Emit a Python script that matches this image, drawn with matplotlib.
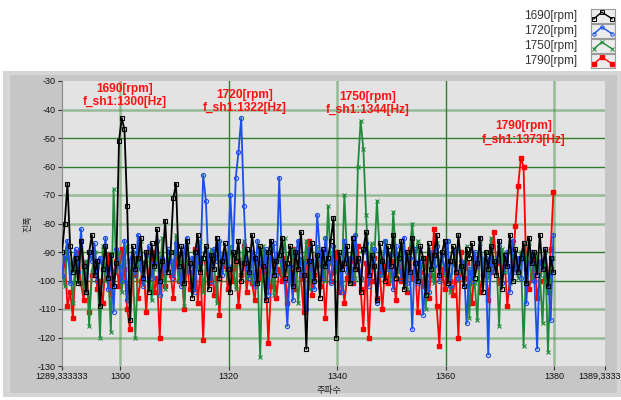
import numpy as np
import matplotlib.pyplot as plt
from matplotlib.patches import Rectangle

plt.rcParams['font.family'] = ['Liberation Sans', 'Noto Sans CJK KR', 'DejaVu Sans']
plt.rcParams['axes.unicode_minus'] = False

# spectrum bins: 1289.333333 Hz, every 0.5 Hz, up to ~1380 Hz
freq_start = 1289.333333
freq_step = 0.5

amp_1690 = [
    -90, -80, -66, -88, -97, -92, -101, -86, -95, -104, -90, -84, -98, -93, -109, -96, -88, -99, -91, -102,
    -94, -51, -43, -47, -74, -114, -88, -96, -92, -85, -99, -90, -104, -87, -95, -82, -100, -93, -79, -97,
    -90, -71, -66, -95, -88, -101, -86, -94, -106, -90, -84, -97, -92, -88, -103, -91, -96, -85, -99, -93,
    -87, -96, -104, -90, -93, -86, -100, -94, -89, -97, -84, -92, -101, -88, -95, -107, -90, -86, -98, -93,
    -91, -85, -99, -94, -88, -102, -90, -96, -83, -98, -124, -93, -87, -100, -91, -106, -89, -95, -92, -86,
    -78, -120, -90, -96, -94, -88, -101, -85, -96, -92, -104, -89, -83, -98, -91, -95, -107, -87, -93, -100,
    -88, -95, -84, -99, -92, -86, -103, -90, -97, -85, -94, -100, -88, -92, -105, -87, -96, -91, -84, -98,
    -90, -86, -101, -93, -88, -97, -84, -95, -102, -89, -92, -87, -99, -94, -85, -104, -90, -96, -88, -93,
    -98, -86, -103, -91, -95, -84, -100, -89, -97, -92, -87, -101, -85, -94, -90, -98, -84, -96, -89, -102,
    -92, -97,
]
amp_1720 = [
    -98, -91, -86, -101, -94, -89, -97, -82, -95, -104, -90, -93, -87, -100, -92, -96, -85, -103, -91, -111,
    -89, -95, -100, -86, -107, -93, -90, -98, -84, -96, -102, -91, -88, -99, -94, -86, -105, -92, -97, -89,
    -93, -99, -87, -95, -102, -90, -85, -97, -92, -104, -88, -94, -63, -72, -96, -100, -89, -93, -86, -98,
    -91, -95, -70, -90, -64, -55, -43, -74, -96, -99, -90, -102, -86, -94, -97, -89, -105, -92, -87, -98,
    -64, -93, -100, -116, -95, -107, -91, -86, -98, -94, -110, -89, -96, -103, -77, -90, -99, -85, -93, -101,
    -88, -95, -91, -104, -86, -97, -92, -100, -84, -93, -99, -90, -87, -102, -95, -89, -108, -94, -98, -86,
    -96, -91, -103, -88, -94, -99, -85, -101, -92, -117, -89, -101, -93, -112, -98, -104, -90, -95, -88, -100,
    -91, -97, -86, -102, -94, -89, -99, -93, -94, -115, -96, -100, -90, -95, -85, -98, -92, -126, -89, -97,
    -93, -88, -101, -95, -90, -104, -86, -97, -92, -99, -87, -108, -94, -90, -100, -124, -93, -96, -89, -98,
    -114, -84,
]
amp_1750 = [
    -96, -102, -89, -94, -108, -91, -99, -86, -104, -93, -116, -97, -90, -95, -120, -88, -100, -96, -118, -68,
    -97, -90, -104, -93, -88, -99, -92, -120, -95, -86, -101, -94, -89, -107, -96, -91, -98, -85, -103, -93,
    -90, -97, -84, -100, -93, -109, -88, -95, -102, -91, -96, -86, -104, -94, -99, -89, -93, -108, -87, -97,
    -92, -100, -88, -95, -103, -90, -97, -86, -99, -94, -101, -91, -96, -127, -88, -93, -100, -87, -105, -94,
    -90, -98, -85, -96, -101, -89, -94, -108, -92, -97, -86, -103, -93, -99, -88, -95, -91, -100, -74, -94,
    -89, -97, -93, -101, -70, -92, -96, -88, -99, -60, -44, -54, -77, -95, -87, -93, -72, -90, -98, -86,
    -94, -100, -76, -91, -97, -88, -95, -103, -90, -80, -93, -86, -99, -92, -110, -89, -96, -101, -87, -94,
    -91, -98, -86, -104, -93, -89, -100, -95, -97, -88, -113, -92, -101, -114, -87, -94, -90, -99, -85, -96,
    -92, -116, -89, -97, -94, -101, -88, -95, -99, -90, -123, -93, -87, -100, -96, -91, -98, -115, -90, -125,
    -96, -92,
]
amp_1790 = [
    -99, -92, -109, -104, -113, -96, -90, -101, -107, -94, -111, -98, -93, -103, -100, -108, -95, -91, -105, -97,
    -93, -102, -89, -96, -110, -117, -98, -92, -106, -100, -94, -111, -97, -90, -104, -99, -120, -95, -102, -93,
    -98, -106, -91, -100, -95, -110, -93, -103, -97, -89, -108, -96, -121, -94, -101, -92, -105, -99, -112, -95,
    -91, -103, -96, -100, -93, -109, -98, -88, -104, -95, -101, -107, -94, -99, -90, -97, -122, -102, -93, -106,
    -96, -100, -92, -108, -97, -89, -103, -94, -99, -111, -93, -86, -105, -98, -91, -102, -96, -113, -94, -100,
    -97, -90, -104, -95, -108, -99, -93, -101, -96, -88, -103, -117, -94, -120, -100, -92, -106, -97, -110, -95,
    -101, -93, -98, -107, -91, -100, -96, -104, -89, -99, -94, -111, -97, -102, -92, -106, -98, -82, -109, -123,
    -96, -103, -93, -100, -105, -97, -120, -90, -99, -94, -101, -108, -95, -92, -104, -98, -93, -107, -97, -83,
    -94, -101, -97, -92, -109, -99, -95, -81, -67, -57, -60, -96, -103, -98, -92, -106, -100, -94, -99, -104,
    -89, -69,
]

legend_labels = ["1690[rpm]", "1720[rpm]", "1750[rpm]", "1790[rpm]"]
colors = ["#000000", "#1a50e6", "#1f8a3c", "#ff0000"]

notes = [
    (1300.9, -35.1, "1690[rpm]\nf_sh1:1300[Hz]"),
    (1323.0, -37.2, "1720[rpm]\nf_sh1:1322[Hz]"),
    (1345.7, -37.9, "1750[rpm]\nf_sh1:1344[Hz]"),
    (1374.3, -48.2, "1790[rpm]\nf_sh1:1373[Hz]"),
]

W, H = 621, 400
fig = plt.figure(figsize=(W / 100, H / 100), dpi=100)
fig.patch.set_facecolor("white")


def px_rect(x0, y0, x1, y1, color):
    fig.add_artist(Rectangle((x0 / W, 1 - y1 / H), (x1 - x0) / W, (y1 - y0) / H,
                             transform=fig.transFigure, facecolor=color,
                             edgecolor="none", zorder=0))


# LabVIEW-like panel behind the graph
px_rect(3, 71, 621, 397, "#d6d6d6")
px_rect(10, 75, 617, 393, "#c6c6c6")

ax = fig.add_axes([62 / W, 1 - 366 / H, (605 - 62) / W, (366 - 81) / H])
ax.set_facecolor("#e3e3e3")

# grid (some lines look lighter/thicker in the original)
for yv in range(-120, -30, 10):
    if yv in (-40, -70, -80, -110, -120):
        ax.axhline(yv, color="#3a8a3a", lw=1.8, alpha=0.45, zorder=1)
    else:
        ax.axhline(yv, color="#2f7f2f", lw=1.0, zorder=1)
for xv in (1300, 1320, 1340, 1360, 1380):
    if xv in (1300, 1340, 1380):
        ax.axvline(xv, color="#3a8a3a", lw=1.8, alpha=0.45, zorder=1)
    else:
        ax.axvline(xv, color="#2f7f2f", lw=1.0, zorder=1)

n = len(amp_1690)
assert n == len(amp_1720) == len(amp_1750) == len(amp_1790)
freq = freq_start + freq_step * np.arange(n)

ax.plot(freq, amp_1790, color=colors[3], lw=1.3, marker="s", ms=3.2,
        mfc=colors[3], mec=colors[3], zorder=2)
ax.plot(freq, amp_1750, color=colors[2], lw=1.3, marker="x", ms=3.0,
        mew=0.8, zorder=3)
ax.plot(freq, amp_1720, color=colors[1], lw=1.3, marker="o", ms=3.0,
        mfc="none", mec=colors[1], mew=0.8, zorder=4)
ax.plot(freq, amp_1690, color=colors[0], lw=1.3, marker="s", ms=3.2,
        mfc="none", mec=colors[0], mew=0.8, zorder=5)

for x, y, s in notes:
    ax.text(x, y, s, color="#ff1010", ha="center", va="center", fontsize=8.6,
            fontweight="bold", linespacing=1.2, zorder=10)

ax.set_xlim(1289.333333, 1389.333333)
ax.set_ylim(-130, -30)
ax.set_xticks([1289.333333, 1300, 1320, 1340, 1360, 1380, 1389.333333])
ax.set_xticklabels(["1289,333333", "1300", "1320", "1340", "1360", "1380", "1389,333333"])
ax.set_yticks(range(-130, -29, 10))
ax.set_yticklabels([str(v) for v in range(-130, -29, 10)])
ax.tick_params(length=3, width=0.8, color="#333333", labelsize=6.5,
               labelcolor="#111111", pad=1.5)
for side in ("top", "right", "bottom"):
    ax.spines[side].set_visible(False)
ax.spines["left"].set_color("#8a8a8a")

fig.text(28 / W, 1 - 224 / H, "진폭", rotation=90, ha="center", va="center",
         fontsize=6.5, color="#222222")
fig.text(329 / W, 1 - 391 / H, "주파수", ha="center", va="center",
         fontsize=6.5, color="#222222")

# legend on the top right, like the LabVIEW plot legend
rows = [16, 31, 46, 61]
for label, c, yc in zip(legend_labels, colors, rows):
    fig.text(577 / W, 1 - yc / H, label, ha="right", va="center",
             fontsize=8.5, color="#333333")
    sw = fig.add_axes([591 / W, 1 - (yc + 7) / H, 24 / W, 14 / H])
    sw.set_facecolor("#ececec")
    sw.set_xticks([])
    sw.set_yticks([])
    for sp in sw.spines.values():
        sp.set_color("#9a9a9a")
        sp.set_linewidth(0.8)
    kw = dict(color=c, lw=1.0, ms=2.5)
    if c == colors[0]:
        kw.update(marker="s", mfc="none", mec=c, mew=0.7)
    elif c == colors[1]:
        kw.update(marker="o", mfc="none", mec=c, mew=0.7)
    elif c == colors[2]:
        kw.update(marker="x", mew=0.7)
    else:
        kw.update(marker="s", mfc=c, mec=c)
    sw.plot([0.12, 0.45, 0.88], [0.3, 0.78, 0.3], **kw)
    sw.set_xlim(0, 1)
    sw.set_ylim(0, 1)

fig.savefig("out.png", dpi=100)
